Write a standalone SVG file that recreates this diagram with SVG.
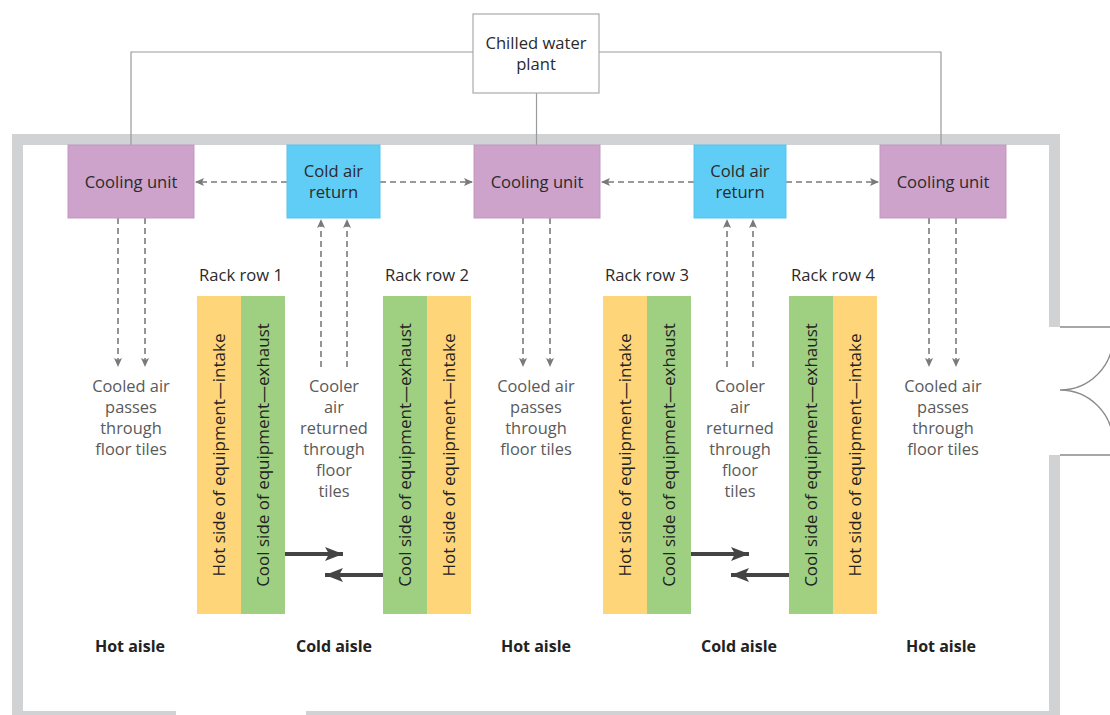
<svg xmlns="http://www.w3.org/2000/svg" width="1110" height="715" viewBox="0 0 1110 715">
<style>
.wall{fill:#d0d2d4}
.pipe{fill:none;stroke:#9a9a9a;stroke-width:1.2}
.door{fill:none;stroke:#8a8a8a;stroke-width:1.3}
.cu{fill:#cda3cc;stroke:#c197c0;stroke-width:1}
.ret{fill:#5fcdf5;stroke:#56c3ec;stroke-width:1}
.plant{fill:#fff;stroke:#aaa;stroke-width:1.2}
.hot{fill:#fed679}
.cool{fill:#9fd081}
.lbl{font-family:"Open Sans",sans-serif;font-size:16.6px;fill:#2a2a2a;text-anchor:middle}
.note{font-family:"Open Sans",sans-serif;font-size:16.4px;fill:#5a5a5a;text-anchor:middle}
.aisle{font-family:"Open Sans",sans-serif;font-size:16px;font-weight:bold;fill:#222;text-anchor:middle}
.vt{font-family:"Open Sans",sans-serif;font-size:17px;fill:#222;text-anchor:middle}
.dash{fill:none;stroke:#7a7a7a;stroke-width:1.6;stroke-dasharray:6 4}
.bold{fill:none;stroke:#444;stroke-width:4}
</style>
<defs>
<marker id="ah" markerWidth="10" markerHeight="10" refX="8" refY="5" orient="auto" markerUnits="userSpaceOnUse">
<path d="M0,1 L9,5 L0,9 L2,5 Z" fill="#7a7a7a"/>
</marker>
<marker id="bh" markerWidth="20" markerHeight="16" refX="18" refY="8" orient="auto" markerUnits="userSpaceOnUse">
<path d="M0,1 L18,8 L0,15 L4,8 Z" fill="#444"/>
</marker>
</defs>

<g id="walls">
<rect class="wall" x="12" y="134" width="1048" height="11"/>
<rect class="wall" x="12" y="134" width="11" height="581"/>
<rect class="wall" x="1049" y="134" width="11" height="193"/>
<rect class="wall" x="1049" y="455" width="11" height="260"/>
<rect class="wall" x="12" y="711" width="164" height="4"/>
<rect class="wall" x="306" y="711" width="754" height="4"/>
<path class="door" d="M1060,327 H1110 M1060,455 H1110"/>
<path class="door" d="M1060,390 A53,53 0 0 0 1113,337 M1060,390 A53,53 0 0 1 1113,443"/>
</g>

<g id="connectors">
<path class="pipe" d="M473,52 H131 V145 M599,52 H941 V145 M536.5,93 V145"/>
<path class="dash" d="M287,182 H196" marker-end="url(#ah)"/>
<path class="dash" d="M380,182 H472" marker-end="url(#ah)"/>
<path class="dash" d="M694,182 H602" marker-end="url(#ah)"/>
<path class="dash" d="M786,182 H878" marker-end="url(#ah)"/>
<path class="dash" d="M118,218 V366" marker-end="url(#ah)"/>
<path class="dash" d="M145,218 V366" marker-end="url(#ah)"/>
<path class="dash" d="M523,218 V366" marker-end="url(#ah)"/>
<path class="dash" d="M550,218 V366" marker-end="url(#ah)"/>
<path class="dash" d="M929,218 V366" marker-end="url(#ah)"/>
<path class="dash" d="M956,218 V366" marker-end="url(#ah)"/>
<path class="dash" d="M321,367 V220" marker-end="url(#ah)"/>
<path class="dash" d="M347,367 V220" marker-end="url(#ah)"/>
<path class="dash" d="M727,367 V220" marker-end="url(#ah)"/>
<path class="dash" d="M753,367 V220" marker-end="url(#ah)"/>
<path class="bold" d="M285,554 H343" marker-end="url(#bh)"/>
<path class="bold" d="M383,575 H325" marker-end="url(#bh)"/>
<path class="bold" d="M691,554 H749" marker-end="url(#bh)"/>
<path class="bold" d="M789,575 H731" marker-end="url(#bh)"/>
</g>

<g id="plant">
<rect class="plant" x="473" y="14" width="126" height="79"/>
<text class="lbl" x="536" y="49">Chilled water</text>
<text class="lbl" x="536" y="70">plant</text>
</g>

<g id="cooling-unit-1">
<rect class="cu" x="68" y="145" width="126" height="73"/>
<text class="lbl" x="131" y="188">Cooling unit</text>
</g>
<g id="cooling-unit-2">
<rect class="cu" x="474" y="145" width="126" height="73"/>
<text class="lbl" x="537" y="188">Cooling unit</text>
</g>
<g id="cooling-unit-3">
<rect class="cu" x="880" y="145" width="126" height="73"/>
<text class="lbl" x="943" y="188">Cooling unit</text>
</g>

<g id="cold-air-return-1">
<rect class="ret" x="287" y="145" width="93" height="73"/>
<text class="lbl" x="333.5" y="177">Cold air</text>
<text class="lbl" x="333.5" y="198">return</text>
</g>
<g id="cold-air-return-2">
<rect class="ret" x="694" y="145" width="92" height="73"/>
<text class="lbl" x="740" y="177">Cold air</text>
<text class="lbl" x="740" y="198">return</text>
</g>

<g id="note-cooled-1">
<text class="note" x="131" y="392">Cooled air</text>
<text class="note" x="131" y="413">passes</text>
<text class="note" x="131" y="434">through</text>
<text class="note" x="131" y="455">floor tiles</text>
</g>
<g id="note-cooled-2">
<text class="note" x="536" y="392">Cooled air</text>
<text class="note" x="536" y="413">passes</text>
<text class="note" x="536" y="434">through</text>
<text class="note" x="536" y="455">floor tiles</text>
</g>
<g id="note-cooled-3">
<text class="note" x="943" y="392">Cooled air</text>
<text class="note" x="943" y="413">passes</text>
<text class="note" x="943" y="434">through</text>
<text class="note" x="943" y="455">floor tiles</text>
</g>
<g id="note-cooler-1">
<text class="note" x="334" y="392">Cooler</text>
<text class="note" x="334" y="413">air</text>
<text class="note" x="334" y="434">returned</text>
<text class="note" x="334" y="455">through</text>
<text class="note" x="334" y="476">floor</text>
<text class="note" x="334" y="497">tiles</text>
</g>
<g id="note-cooler-2">
<text class="note" x="740" y="392">Cooler</text>
<text class="note" x="740" y="413">air</text>
<text class="note" x="740" y="434">returned</text>
<text class="note" x="740" y="455">through</text>
<text class="note" x="740" y="476">floor</text>
<text class="note" x="740" y="497">tiles</text>
</g>

<g id="rack-row-1">
<text class="lbl" x="241" y="281">Rack row 1</text>
<rect class="hot" x="197" y="296" width="44" height="318"/>
<rect class="cool" x="241" y="296" width="44" height="318"/>
<text class="vt" transform="translate(225,455) rotate(-90)">Hot side of equipment—intake</text>
<text class="vt" transform="translate(269,455) rotate(-90)">Cool side of equipment—exhaust</text>
</g>
<g id="rack-row-2">
<text class="lbl" x="427" y="281">Rack row 2</text>
<rect class="cool" x="383" y="296" width="44" height="318"/>
<rect class="hot" x="427" y="296" width="44" height="318"/>
<text class="vt" transform="translate(411,455) rotate(-90)">Cool side of equipment—exhaust</text>
<text class="vt" transform="translate(455,455) rotate(-90)">Hot side of equipment—intake</text>
</g>
<g id="rack-row-3">
<text class="lbl" x="647" y="281">Rack row 3</text>
<rect class="hot" x="603" y="296" width="44" height="318"/>
<rect class="cool" x="647" y="296" width="44" height="318"/>
<text class="vt" transform="translate(631,455) rotate(-90)">Hot side of equipment—intake</text>
<text class="vt" transform="translate(675,455) rotate(-90)">Cool side of equipment—exhaust</text>
</g>
<g id="rack-row-4">
<text class="lbl" x="833" y="281">Rack row 4</text>
<rect class="cool" x="789" y="296" width="44" height="318"/>
<rect class="hot" x="833" y="296" width="44" height="318"/>
<text class="vt" transform="translate(817,455) rotate(-90)">Cool side of equipment—exhaust</text>
<text class="vt" transform="translate(861,455) rotate(-90)">Hot side of equipment—intake</text>
</g>

<g id="aisles">
<text class="aisle" x="130" y="652">Hot aisle</text>
<text class="aisle" x="334" y="652">Cold aisle</text>
<text class="aisle" x="536" y="652">Hot aisle</text>
<text class="aisle" x="739" y="652">Cold aisle</text>
<text class="aisle" x="941" y="652">Hot aisle</text>
</g>
</svg>
